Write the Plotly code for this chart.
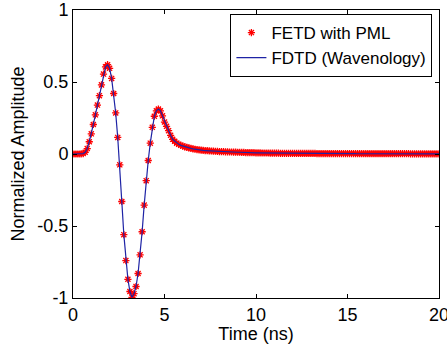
import numpy as np
import plotly.graph_objects as go

fetd_amp = [
    0.0, 0.0, 0.0, 0.0, 0.001, 0.003, 0.012, 0.038, 0.085, 0.14,
    0.205, 0.272, 0.34, 0.405, 0.48, 0.555, 0.605, 0.62, 0.595, 0.525,
    0.42, 0.285, 0.115, -0.075, -0.33, -0.56, -0.74, -0.87, -0.955, -0.995,
    -0.97, -0.92, -0.83, -0.70, -0.54, -0.355, -0.185, -0.045, 0.075, 0.185,
    0.262, 0.30, 0.312, 0.30, 0.265, 0.222, 0.192, 0.162, 0.13, 0.102,
    0.088, 0.075, 0.067, 0.06, 0.055, 0.05, 0.046, 0.042, 0.039, 0.036,
    0.033, 0.031, 0.029, 0.027, 0.025, 0.024, 0.023, 0.022, 0.021, 0.020,
    0.019, 0.018, 0.017,
    0.016, 0.016, 0.015, 0.015, 0.014, 0.014, 0.013, 0.013, 0.012,
    0.012, 0.011, 0.011, 0.010, 0.010, 0.010, 0.009, 0.009, 0.008,
    0.008, 0.008, 0.007, 0.007, 0.007, 0.007, 0.006, 0.006, 0.006,
    0.006, 0.006, 0.005, 0.005, 0.005, 0.005, 0.005, 0.005, 0.004,
    0.004, 0.004, 0.004, 0.004, 0.004, 0.004, 0.004, 0.004, 0.004,
    0.004, 0.004, 0.003, 0.003, 0.003, 0.003, 0.003, 0.003, 0.003,
    0.003, 0.003, 0.003, 0.003, 0.003, 0.003, 0.003, 0.003, 0.003,
    0.003, 0.003, 0.003, 0.002, 0.002, 0.002, 0.002, 0.002, 0.002,
    0.002, 0.002, 0.002, 0.002, 0.002, 0.002, 0.002, 0.002, 0.002,
    0.002, 0.002, 0.002, 0.002, 0.002, 0.002, 0.002, 0.002, 0.002,
    0.002, 0.002, 0.002, 0.001, 0.001, 0.001, 0.001, 0.001, 0.001,
    0.001, 0.001, 0.001, 0.001, 0.001, 0.001, 0.001, 0.001, 0.001,
]
fdtd_amp = list(fetd_amp)
time_ns = np.linspace(0, 20, len(fetd_amp))

x_tickvals = [0, 5, 10, 15, 20]
x_ticktext = ["0", "5", "10", "15", "20"]
y_tickvals = [-1, -0.5, 0, 0.5, 1]
y_ticktext = ["-1", "-0.5", "0", "0.5", "1"]

FONT = "Liberation Sans, Arial, Helvetica, sans-serif"

fig = go.Figure()
fig.add_trace(go.Scatter(
    x=time_ns, y=fetd_amp, mode="markers", name="FETD with PML",
    marker=dict(symbol="asterisk-open", size=6, color="red",
                line=dict(color="rgba(255,0,0,0.9)", width=1.3)),
))
fig.add_trace(go.Scatter(
    x=time_ns, y=fdtd_amp, mode="lines", name="FDTD (Wavenology)",
    line=dict(color="rgb(30,35,165)", width=1.2),
))

axis_common = dict(
    showline=True, linecolor="black", linewidth=1, mirror="allticks",
    ticks="inside", ticklen=4, tickcolor="black", tickwidth=1,
    showgrid=False, zeroline=False, automargin=False,
    tickfont=dict(family=FONT, size=18, color="black"),
)
fig.update_xaxes(range=[0, 20], tickvals=x_tickvals, ticktext=x_ticktext,
                 ticklabeloverflow="allow",
                 title=dict(text="Time (ns)", font=dict(family=FONT, size=18, color="black"), standoff=2),
                 **axis_common)
fig.update_yaxes(range=[-1, 1], tickvals=y_tickvals, ticktext=y_ticktext,
                 title=dict(text="Normalized Amplitude", font=dict(family=FONT, size=18, color="black"), standoff=8),
                 **axis_common)

fig.update_layout(
    width=447, height=344,
    margin=dict(l=73, r=8, t=10, b=46),
    paper_bgcolor="white", plot_bgcolor="white",
    font=dict(family=FONT, size=18, color="black"),
    showlegend=True,
    legend=dict(x=0.982, y=0.986, xanchor="right", yanchor="top",
                bgcolor="white", bordercolor="black", borderwidth=1,
                font=dict(family=FONT, size=17, color="black"),
                tracegroupgap=0, itemwidth=30),
)

fig.write_html("out.html")
